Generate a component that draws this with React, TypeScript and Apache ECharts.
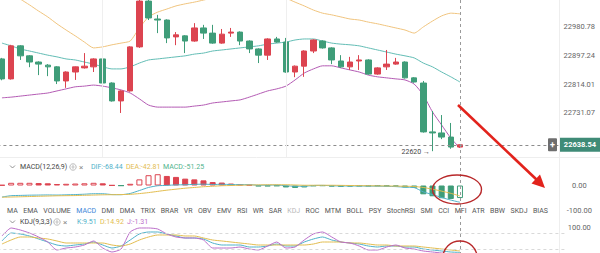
import { useEffect, useRef } from "react";
import * as echarts from "echarts";

const FONT = "Roboto, 'Noto Sans', sans-serif";

// 51 traded bars followed by empty slots that keep room on the right
const slotCount = 62;
const categories = Array.from({ length: slotCount }, (_, i) => `${i + 1}`);

// [open, close, low, high]
const candles: number[][] = [
  [22888, 22830, 22826, 22891],
  [22830, 22926, 22828, 22929],
  [22926, 22897, 22885, 22928],
  [22897, 22879, 22864, 22899],
  [22879, 22873, 22841, 22881],
  [22870, 22865, 22838, 22873],
  [22865, 22824, 22815, 22867],
  [22824, 22850, 22804, 22852],
  [22850, 22865, 22827, 22866],
  [22862, 22867, 22860, 22905],
  [22865, 22888, 22850, 22890],
  [22888, 22818, 22815, 22914],
  [22818, 22766, 22764, 22820],
  [22766, 22795, 22731, 22797],
  [22795, 22923, 22793, 22925],
  [22923, 23056, 22920, 23062],
  [23056, 23007, 23001, 23060],
  [23004, 23001, 22963, 23016],
  [23001, 22949, 22934, 23003],
  [22952, 22958, 22928, 22966],
  [22955, 22940, 22905, 22957],
  [22940, 22978, 22938, 22992],
  [22978, 22963, 22946, 22987],
  [22963, 22934, 22932, 22987],
  [22934, 22960, 22932, 22975],
  [22963, 22966, 22952, 22978],
  [22966, 22940, 22928, 22968],
  [22940, 22917, 22905, 22942],
  [22917, 22899, 22876, 22919],
  [22899, 22946, 22885, 22948],
  [22946, 22937, 22935, 22952],
  [22937, 22850, 22848, 22949],
  [22850, 22867, 22835, 22869],
  [22867, 22911, 22836, 22913],
  [22911, 22943, 22905, 22945],
  [22940, 22920, 22918, 22942],
  [22920, 22885, 22873, 22922],
  [22882, 22865, 22862, 22899],
  [22865, 22879, 22856, 22894],
  [22882, 22885, 22856, 22899],
  [22885, 22844, 22842, 22887],
  [22844, 22862, 22842, 22864],
  [22865, 22873, 22856, 22914],
  [22873, 22879, 22871, 22891],
  [22879, 22833, 22831, 22881],
  [22833, 22821, 22819, 22835],
  [22818, 22676, 22674, 22824],
  [22676, 22673, 22620, 22737],
  [22673, 22661, 22655, 22725],
  [22661, 22632, 22627, 22702],
  [22632, 22638.54, 22630, 22640],
];

// Bollinger bands (20, 2)
const bollUpper = [
  23097, 23080, 23062, 23045, 23027, 23010, 22990, 22972, 22955, 22937,
  22920, 22923, 22929, 22934, 22940, 22978, 23010, 23024, 23033, 23042,
  23048, 23053, 23059, 23065, 23068, 23074, 23080, 23085, 23088, 23088,
  23082, 23065, 23053, 23042, 23030, 23021, 23016, 23010, 23004, 23001,
  22995, 22990, 22984, 22978, 22972, 22963, 22981, 22998, 23013, 23021,
  23019,
];
const bollMid = [
  22934, 22926, 22917, 22911, 22905, 22899, 22894, 22888, 22885, 22879,
  22873, 22865, 22859, 22859, 22865, 22876, 22885, 22888, 22891, 22894,
  22897, 22902, 22905, 22911, 22914, 22917, 22920, 22923, 22926, 22931,
  22934, 22937, 22943, 22946, 22946, 22940, 22934, 22931, 22929, 22926,
  22920, 22914, 22908, 22902, 22897, 22891, 22876, 22865, 22850, 22836,
  22821,
];
const bollLower = [
  22775, 22777, 22780, 22783, 22786, 22789, 22795, 22801, 22807, 22809,
  22812, 22809, 22804, 22798, 22789, 22772, 22754, 22748, 22748, 22748,
  22748, 22751, 22754, 22760, 22763, 22766, 22769, 22777, 22786, 22795,
  22801, 22809, 22827, 22847, 22859, 22868, 22868, 22862, 22856, 22850,
  22841, 22836, 22833, 22830, 22827, 22815, 22783, 22734, 22696, 22658,
  22629,
];

// MACD(12,26,9)
const macdHist = [
  2, 11, 11, 11, 10, 9, 6, 7, 8, 9,
  11, 9, 1, -1, 7, 25, 42, 46, 39, 35,
  28, 25, 21, 14, 12, 8, 5, 3, -3, -3,
  -2, -8, -10, -8, -2, -1, -4, -5, -4, -3,
  -3, -2, -3, -4, -8, -9, -36, -44, -52, -55,
  -51.25,
];
const macdDif = [
  -47, -41.5, -40.5, -39.5, -39, -38.5, -39, -38, -37, -35.5,
  -33.5, -33.5, -37, -37.5, -32.5, -20.5, -8, -1, 0.5, 2.5,
  3, 4.5, 5.5, 4, 5, 4, 3.5, 3.5, 1, 1.5,
  2, -1, -3, -3, 0, 0.5, -1, -2, -2, -2,
  -2.5, -2.5, -3.5, -4.5, -7, -8.5, -26, -37, -49, -59.5,
  -68.44,
];
const macdDea = [
  -48, -47, -46, -45, -44, -43, -42, -41.5, -41, -40,
  -39, -38, -37.5, -37, -36, -33, -29, -24, -19, -15,
  -11, -8, -5, -3, -1, 0, 1, 2, 2.5, 3,
  3, 3, 2, 1, 1, 1, 1, 0.5, 0, -0.5,
  -1, -1.5, -2, -2.5, -3, -4, -8, -15, -23, -32,
  -42.81,
];

// KDJ(9,3,3)
const kdjK = [
  51.9, 81.5, 77.8, 70.4, 59.3, 48.1, 37, 33.3, 37, 40.7,
  48.1, 37, 25.9, 33.3, 55.6, 77.8, 85.2, 85.2, 77.8, 70.4,
  63, 63, 59.3, 44.4, 37, 37, 37, 29.6, 29.6, 33.3,
  40.7, 33.3, 33.3, 48.1, 59.3, 66.7, 55.6, 48.1, 44.4, 40.7,
  33.3, 29.6, 33.3, 33.3, 29.6, 29.6, 22.2, 18.5, 14.8, 11.1,
  9.51,
];
const kdjD = [
  40.7, 55.6, 66.7, 66.7, 63, 59.3, 51.9, 44.4, 44.4, 44.4,
  44.4, 44.4, 37, 33.3, 40.7, 55.6, 66.7, 74.1, 74.1, 74.1,
  70.4, 70.4, 63, 55.6, 51.9, 48.1, 44.4, 40.7, 37, 37,
  37, 37, 37, 37, 40.7, 48.1, 48.1, 48.1, 44.4, 44.4,
  40.7, 37, 37, 33.3, 33.3, 33.3, 29.6, 25.9, 22.2, 18.5,
  14.92,
];
const kdjJ = [
  70.4, 100, 92.6, 81.5, 66.7, 48.1, 18.5, 25.9, 29.6, 37,
  51.9, 25.9, 11.1, 22.2, 85.2, 100, 100, 96.3, 77.8, 66.7,
  63, 63, 55.6, 25.9, 25.9, 25.9, 29.6, 22.2, 18.5, 33.3,
  48.1, 25.9, 29.6, 55.6, 77.8, 85.2, 66.7, 48.1, 44.4, 33.3,
  18.5, 18.5, 29.6, 37, 25.9, 22.2, 14.8, 11.1, 7.4, 3.7,
  -1.31,
];

const priceTicks = [22980.78, 22897.24, 22814.01, 22731.07];
const macdTicks = [0, -100];
const kdjTicks = [100];
const kdjGuides = [80, 20];

const indicatorTabs = [
  "MA", "EMA", "VOLUME", "MACD", "DMI", "DMA", "TRIX", "BRAR", "VR", "OBV",
  "EMV", "RSI", "WR", "SAR", "KDJ", "ROC", "MTM", "BOLL", "PSY", "StochRSI",
  "SMI", "CCI", "MFI", "ATR", "BBW", "SKDJ", "BIAS",
];
const activeTab = "MACD";
const mutedTab = "KDJ";

const UP = "#dc4450";
const DOWN = "#3f9d79";
const C_UPPER = "#f0c47e";
const C_MID = "#62bdb5";
const C_LOWER = "#b45bb4";
const C_DIF = "#4fb1c9";
const C_DEA = "#e3bd4f";
const C_MACD = "#4fb38c";
const C_K = "#4fb1c9";
const C_D = "#e3bd4f";
const C_J = "#bb6fc9";
const AXIS_TEXT = "#666";

// plot area geometry (pixels)
const PLOT_LEFT = -2.6;
const PLOT_WIDTH = 567.9;

const hiddenX = (gridIndex: number) => ({
  type: "category" as const,
  gridIndex,
  data: categories,
  boundaryGap: true,
  axisLine: { show: false },
  axisTick: { show: false },
  axisLabel: { show: false },
  splitLine: { show: false },
});

const rightAxis = (gridIndex: number, min: number, max: number, ticks: number[]) => ({
  type: "value" as const,
  gridIndex,
  position: "right" as const,
  min,
  max,
  axisLine: { show: false },
  axisTick: { show: false },
  splitLine: { show: false },
  axisLabel: {
    customValues: ticks,
    formatter: (v: number) => Number(v).toFixed(2),
    color: AXIS_TEXT,
    fontSize: 7.5,
    fontFamily: FONT,
    align: "center",
    margin: 14,
  },
});

function lineSeries(name: string, data: number[], color: string, axis: number, extra: any = {}) {
  return {
    name,
    type: "line",
    xAxisIndex: axis,
    yAxisIndex: axis,
    data,
    symbol: "none",
    smooth: 0.2,
    lineStyle: { color, width: 1 },
    z: 3,
    ...extra,
  };
}

function buildOption(): any {
  const grid = (top: number, height: number) => ({
    left: PLOT_LEFT,
    width: PLOT_WIDTH,
    top,
    height,
    containLabel: false,
    outerBoundsMode: "none",
  });

  const histData = macdHist.map((v, i) => {
    const rising = i > 0 && v >= macdHist[i - 1];
    const c = v >= 0 ? UP : DOWN;
    return {
      value: v,
      itemStyle: rising
        ? { color: "#ffffff", borderColor: c, borderWidth: 1 }
        : { color: c, borderColor: c, borderWidth: 1 },
    };
  });

  const last = candles.length - 1;

  return {
    animation: false,
    backgroundColor: "#ffffff",
    textStyle: { fontFamily: FONT },
    grid: [grid(0, 157), grid(158, 55), grid(220, 36)],
    xAxis: [hiddenX(0), hiddenX(1), hiddenX(2)],
    yAxis: [
      rightAxis(0, 22603.1, 23059.2, priceTicks),
      rightAxis(1, -112.2, 112.2, macdTicks),
      rightAxis(2, -3.7, 129.6, kdjTicks),
    ],
    series: [
      {
        name: "K线",
        type: "candlestick",
        xAxisIndex: 0,
        yAxisIndex: 0,
        data: candles.map((c) => [c[0], c[1], c[2], c[3]]),
        barWidth: 6,
        itemStyle: { color: UP, color0: DOWN, borderColor: UP, borderColor0: DOWN, borderWidth: 1 },
        z: 4,
        markLine: {
          silent: true,
          symbol: ["none", "none"],
          label: { show: false },
          lineStyle: { color: "#8c8c8c", type: [3, 3], width: 1 },
          data: [{ yAxis: candles[last][1] }],
        },
        markPoint: {
          silent: true,
          symbol: "circle",
          symbolSize: 1,
          itemStyle: { color: "rgba(0,0,0,0)" },
          data: [{ type: "min", valueDim: "lowest" }],
          label: {
            show: true,
            position: "left",
            distance: 2,
            offset: [0, 1],
            formatter: (p: any) => `${p.value} →`,
            color: "#444",
            fontSize: 7,
            fontFamily: FONT,
          },
        },
      },
      lineSeries("UP", bollUpper, C_UPPER, 0),
      lineSeries("MID", bollMid, C_MID, 0, {
        markLine: {
          silent: true,
          symbol: ["none", "none"],
          label: { show: false },
          lineStyle: { color: "#efefef", type: "solid", width: 1 },
          data: [{ xAxis: categories[11] }, { xAxis: categories[31] }],
        },
      }),
      lineSeries("DN", bollLower, C_LOWER, 0),
      {
        name: "MACD",
        type: "bar",
        xAxisIndex: 1,
        yAxisIndex: 1,
        data: histData,
        barWidth: 6,
        z: 2,
      },
      lineSeries("DIF", macdDif, C_DIF, 1),
      lineSeries("DEA", macdDea, C_DEA, 1),
      lineSeries("K", kdjK, C_K, 2, {
        markLine: {
          silent: true,
          symbol: ["none", "none"],
          label: { show: false },
          lineStyle: { color: "#d9d9d9", type: [3, 3], width: 1 },
          data: kdjGuides.map((v) => ({ yAxis: v })),
        },
      }),
      lineSeries("D", kdjD, C_D, 2),
      lineSeries("J", kdjJ, C_J, 2),
    ],
  };
}

function buildOverlay(chart: echarts.ECharts): any[] {
  const last = candles.length - 1;
  const lastClose = candles[last][1];
  const pt = chart.convertToPixel({ gridIndex: 0 }, [last, lastClose]) as number[];
  const cx = Math.round(pt[0]) + 0.5;
  const py = pt[1];
  const els: any[] = [];
  const Z = 100;

  const text = (
    t: string,
    x: number,
    y: number,
    fill: string,
    size = 7,
    opts: { center?: boolean; bold?: boolean } = {},
    z = Z + 2,
  ) => {
    const align = opts.center ? "center" : "left";
    return {
      type: "text",
      x,
      y,
      z,
      silent: true,
      style: {
        text: t,
        fill,
        font: `${opts.bold ? "bold " : ""}${size}px ${FONT}`,
        align,
        textAlign: align,
        verticalAlign: "middle",
        textVerticalAlign: "middle",
      },
    };
  };

  // pane separators
  els.push({ type: "line", z: Z, silent: true, shape: { x1: 0, y1: 157.5, x2: 600, y2: 157.5 }, style: { stroke: "#eeeeee", lineWidth: 1 } });
  els.push({ type: "line", z: Z, silent: true, shape: { x1: 559.5, y1: 0, x2: 559.5, y2: 253 }, style: { stroke: "#eeeeee", lineWidth: 1 } });

  // indicator tab strip
  els.push({ type: "rect", z: Z, silent: true, shape: { x: 0, y: 204, width: 556, height: 13 }, style: { fill: "#ffffff" } });
  const ctx = document.createElement("canvas").getContext("2d")!;
  ctx.font = `7px ${FONT}`;
  const widths = indicatorTabs.map((t) => ctx.measureText(t).width);
  const total = widths.reduce((a, b) => a + b, 0);
  const x0 = 7;
  const x1 = 548;
  const gap = (x1 - x0 - total) / (indicatorTabs.length - 1);
  let tx = x0;
  indicatorTabs.forEach((t, i) => {
    const fill = t === activeTab ? "#3c86d8" : t === mutedTab ? "#b8b8b8" : "#555555";
    els.push(text(t, tx, 211, fill, 7));
    tx += widths[i] + gap;
  });

  // pane legends
  const legendRow = (y: number, title: string, titleEnd: number, items: [string, string, number][]) => {
    els.push({ type: "polyline", z: Z + 2, silent: true, shape: { points: [[10, y - 1.5], [12.5, y + 1], [15, y - 1.5]] }, style: { stroke: "#777", fill: "none", lineWidth: 0.8 } });
    els.push(text(title, 20, y, "#444", 7));
    els.push({ type: "circle", z: Z + 2, silent: true, shape: { cx: titleEnd + 7, cy: y, r: 3.2 }, style: { stroke: "#9a9a9a", fill: "none", lineWidth: 0.7 } });
    els.push({ type: "circle", z: Z + 2, silent: true, shape: { cx: titleEnd + 7, cy: y, r: 1.1 }, style: { stroke: "#9a9a9a", fill: "none", lineWidth: 0.7 } });
    els.push(text("×", titleEnd + 13, y, "#8a8a8a", 8));
    items.forEach(([t, c, x]) => els.push(text(t, x, y, c, 7)));
  };
  legendRow(167, "MACD(12,26,9)", 66, [
    [`DIF:${macdDif[last].toFixed(2)}`, C_DIF, 91],
    [`DEA:${macdDea[last].toFixed(2)}`, C_DEA, 126],
    [`MACD:${macdHist[last].toFixed(2)}`, C_MACD, 163],
  ]);
  legendRow(222, "KDJ(9,3,3)", 50, [
    [`K:${kdjK[last].toFixed(2)}`, C_K, 77],
    [`D:${kdjD[last].toFixed(2)}`, C_D, 100],
    [`J:${kdjJ[last].toFixed(2)}`, C_J, 127],
  ]);

  // crosshair on the latest bar
  els.push({ type: "line", z: Z + 3, silent: true, shape: { x1: cx, y1: 0, x2: cx, y2: 253 }, style: { stroke: "#9a9a9a", lineWidth: 1, lineDash: [3, 3] } });

  // last price tag
  els.push({ type: "rect", z: Z + 4, silent: true, shape: { x: 548, y: py - 6.5, width: 9, height: 13, r: 1 }, style: { fill: "#6e6e6e" } });
  els.push(text("+", 552.5, py, "#ffffff", 9, { center: true, bold: true }, Z + 5));
  els.push({ type: "rect", z: Z + 4, silent: true, shape: { x: 560, y: py - 7, width: 40, height: 14 }, style: { fill: "#3f8b77" } });
  els.push(text(lastClose.toFixed(2), 580, py, "#ffffff", 7.5, { center: true, bold: true }, Z + 5));

  // hand-drawn annotations
  const RED = "#e2231c";
  els.push({ type: "line", z: Z + 6, silent: true, shape: { x1: 458, y1: 105, x2: 537, y2: 180 }, style: { stroke: RED, lineWidth: 2.6 } });
  els.push({ type: "polygon", z: Z + 6, silent: true, shape: { points: [[545, 188], [531.5, 183.5], [540, 174.5]] }, style: { fill: RED } });
  els.push({ type: "ellipse", z: Z + 6, silent: true, shape: { cx: 457, cy: 189.5, rx: 24.5, ry: 14.5 }, style: { stroke: "#b8282a", fill: "none", lineWidth: 1.4 } });
  els.push({ type: "ellipse", z: Z + 6, silent: true, shape: { cx: 460, cy: 257, rx: 17, ry: 16 }, style: { stroke: "#b8282a", fill: "none", lineWidth: 1.4 } });

  return els;
}

export default function App() {
  const ref = useRef<HTMLDivElement>(null);
  useEffect(() => {
    const el = ref.current;
    if (!el) return;
    const chart = echarts.init(el, null, { renderer: "svg" });
    chart.setOption(buildOption());
    chart.setOption({ graphic: { elements: buildOverlay(chart) } });
    return () => chart.dispose();
  }, []);
  return (
    <div
      ref={ref}
      style={{ position: "absolute", left: 0, top: 0, width: 600, height: 253, background: "#fff" }}
    />
  );
}
